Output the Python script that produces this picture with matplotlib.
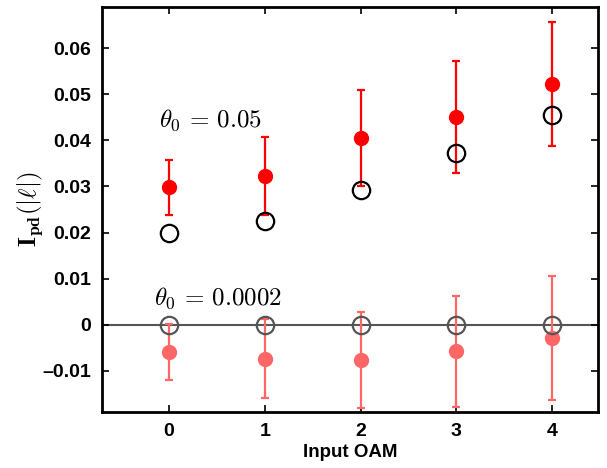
import numpy as np
import matplotlib
matplotlib.use("Agg")
import matplotlib.pyplot as plt

plt.rcParams['mathtext.fontset'] = 'cm'
plt.rcParams['font.family'] = ['Liberation Sans', 'DejaVu Sans']

oam = [0, 1, 2, 3, 4]

# theta0 = 0.05
meas_hi = [0.0298, 0.0323, 0.0405, 0.0450, 0.0522]
err_hi_top = [0.0358, 0.0408, 0.0510, 0.0571, 0.0656]
err_hi_bot = [0.0237, 0.0237, 0.0301, 0.0330, 0.0388]
theory_hi = [0.0198, 0.0224, 0.0293, 0.0373, 0.0455]

# theta0 = 0.0002
meas_lo = [-0.0060, -0.0074, -0.0076, -0.0057, -0.0029]
err_lo_top = [0.0001, 0.0012, 0.0028, 0.0063, 0.0105]
err_lo_bot = [-0.0120, -0.0159, -0.0181, -0.0178, -0.0164]
theory_lo = [0, 0, 0, 0, 0]

yticks = [-0.01, 0, 0.01, 0.02, 0.03, 0.04, 0.05, 0.06]
ytick_labels = ['\u20130.01', '0', '0.01', '0.02', '0.03', '0.04', '0.05', '0.06']

fig = plt.figure(figsize=(6.07, 4.68), dpi=100)
ax = fig.add_axes([102/607, 1 - 412/468, 496/607, 405/468])

ax.axhline(0, color='#555555', lw=1.5, zorder=1)

m_hi = np.array(meas_hi)
yerr_hi = [m_hi - np.array(err_hi_bot), np.array(err_hi_top) - m_hi]
ax.errorbar(oam, meas_hi, yerr=yerr_hi, fmt='o', color='#ff0000', ms=10,
            elinewidth=1.6, capsize=3, capthick=1.6, zorder=3)
ax.plot(oam, theory_hi, 'o', mfc='none', mec='black', ms=12.5, mew=1.6, zorder=4)

m_lo = np.array(meas_lo)
yerr_lo = [m_lo - np.array(err_lo_bot), np.array(err_lo_top) - m_lo]
ax.errorbar(oam, meas_lo, yerr=yerr_lo, fmt='o', color='#ff6666', ms=10,
            elinewidth=1.6, capsize=3, capthick=1.6, zorder=3)
ax.plot(oam, theory_lo, 'o', mfc='none', mec='#555555', ms=12.5, mew=1.6, zorder=4)

ax.text(0.43, 0.0443, r'$\theta_0\,=\,0.05$', fontsize=18, ha='center', va='center')
ax.text(0.51, 0.0058, r'$\theta_0\,=\,0.0002$', fontsize=18, ha='center', va='center')

ax.set_xlim(-0.7, 4.48)
ax.set_ylim(-0.0189, 0.0689)
ax.set_xticks(oam)
ax.set_yticks(yticks)
ax.set_yticklabels(ytick_labels)
ax.tick_params(direction='in', length=5, width=1.2, top=True, right=True,
               labelsize=14, pad=8)
for lab in ax.get_xticklabels() + ax.get_yticklabels():
    lab.set_fontweight('bold')
for sp in ax.spines.values():
    sp.set_linewidth(2)

ax.set_xlabel('Input OAM', fontsize=13.5, fontweight='bold', labelpad=3)
ax.set_ylabel(r'$\mathbf{I_{pd}}(|\ell|)$', fontsize=18, labelpad=-2)

fig.savefig('out.png', dpi=100)
